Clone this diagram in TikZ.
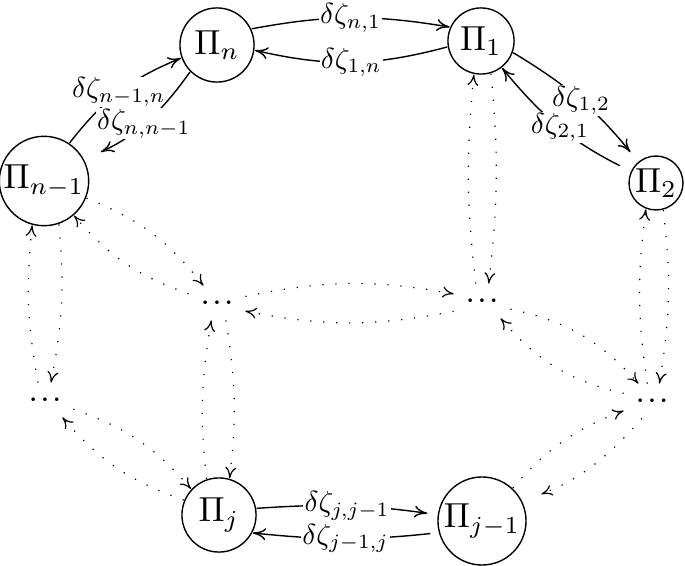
\documentclass[tikz,border=0pt]{standalone}
\usepackage{fix-cm}
\usetikzlibrary{arrows.meta}
\begin{document}
\begin{tikzpicture}[x=0.5pt,y=-0.5pt,
  every node/.style={font=\fontsize{10}{12}\selectfont},
  st/.style={circle, draw, line width=0.7pt, inner sep=0.3pt, scale=1.74},
  lab/.style={fill=white, inner sep=0.4pt, scale=1.45},
  sol/.style={line width=0.7pt, -{To[length=6.5pt,width=6pt]}},
  dotarr/.style={line width=0.6pt, dash pattern=on 0.6pt off 5.9pt, -{To[length=5.5pt,width=5.5pt]}},
  dd/.style={rectangle, inner sep=0pt, minimum width=28pt, minimum height=17pt, font=\fontsize{11.5}{14}\selectfont\boldmath}]
\useasboundingbox (0,0) rectangle (685,566);
\node[st, minimum size=21.3pt] (Pn) at (217,45) {$\Pi_n$};
\node[st, minimum size=19pt] (P1) at (481,41) {$\Pi_1$};
\node[st, minimum size=15.5pt] (P2) at (656,183) {$\Pi_2$};
\node[st, minimum size=25.3pt] (Pnm1) at (44,181) {$\Pi_{n-1}$};
\node[st, minimum size=21.3pt] (Pj) at (219,515) {$\Pi_j$};
\node[st, minimum size=25.3pt] (Pjm1) at (482,521) {$\Pi_{j-1}$};
\node[dd] (dL) at (217,303) {$\cdots$};
\node[dd] (dR) at (482,301) {$\cdots$};
\node[dd] (dFL) at (45,400) {$\cdots$};
\node[dd] (dFR) at (652,401) {$\cdots$};
% solid
\draw[sol] (Pn.25) to[bend left=10] node[lab]{$\delta\zeta_{n,1}$} (P1.156);
\draw[sol] (P1.190) to[bend left=14] node[lab]{$\delta\zeta_{1,n}$} (Pn.-8);
\draw[sol] (Pnm1.56) to[bend left=15] node[lab]{$\delta\zeta_{n-1,n}$} (Pn.200);
\draw[sol, shorten >=9pt] (Pn.225) to[bend left=15] node[lab]{$\delta\zeta_{n,n-1}$} (Pnm1.28);
\draw[sol, shorten >=6pt] (P1.-20) to[bend left=10] node[lab]{$\delta\zeta_{1,2}$} (P2.130);
\draw[sol, shorten <=6pt] (P2.155) to[bend left=12] node[lab]{$\delta\zeta_{2,1}$} (P1.-52);
\draw[sol, shorten >=5pt] (Pj.10) to[bend left=6] node[lab]{$\delta\zeta_{j,j-1}$} (Pjm1.172);
\draw[sol, shorten <=4pt] (Pjm1.195) to[bend left=6] node[lab]{$\delta\zeta_{j-1,j}$} (Pj.-28);
% dotted
\draw[dotarr] (Pnm1.-71) to[bend left=8] (dFL.71);
\draw[dotarr] (dFL.112) to[bend left=8] (Pnm1.-105);
\draw[dotarr] (Pnm1.-22) to[bend left=15] (dL.128);
\draw[dotarr] (dL.162) to[bend left=15] (Pnm1.-49);
\draw[dotarr] (dFL.-18) to[bend left=15] (Pj.137);
\draw[dotarr] (Pj.157) to[bend left=15] (dFL.-45);
\draw[dotarr] (dL.-63) to[bend left=8] (Pj.74);
\draw[dotarr] (Pj.109) to[bend left=8] (dL.-108);
\draw[dotarr] (dL.13) to[bend left=11] (dR.166);
\draw[dotarr] (dR.200) to[bend left=11] (dL.-16);
\draw[dotarr] (P1.-73) to[bend left=6] (dR.69);
\draw[dotarr] (dR.110) to[bend left=6] (P1.-102);
\draw[dotarr] (dR.-16) to[bend left=18] (dFR.128);
\draw[dotarr] (dFR.165) to[bend left=18] (dR.-43);
\draw[dotarr] (P2.-75) to[bend left=8] (dFR.67);
\draw[dotarr] (dFR.105) to[bend left=8] (P2.-111);
\draw[dotarr] (Pjm1.47) to[bend left=14] (dFR.199);
\draw[dotarr, shorten >=10pt] (dFR.-120) to[bend left=14] (Pjm1.26);
\end{tikzpicture}
\end{document}
